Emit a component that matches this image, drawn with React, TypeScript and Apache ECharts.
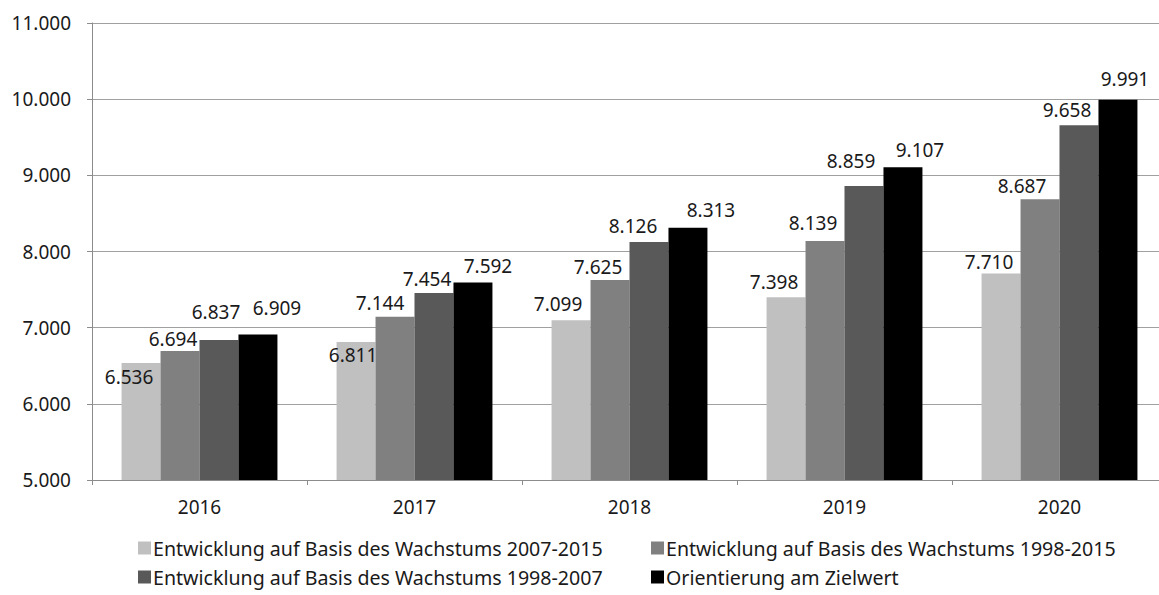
import React, { useEffect, useRef } from "react";
import * as echarts from "echarts";

const categories = ["2016", "2017", "2018", "2019", "2020"];
const seriesNames = [
  "Entwicklung auf Basis des Wachstums 2007-2015",
  "Entwicklung auf Basis des Wachstums 1998-2015",
  "Entwicklung auf Basis des Wachstums 1998-2007",
  "Orientierung am Zielwert",
];
const growth2007_2015 = [6536, 6811, 7099, 7398, 7710];
const growth1998_2015 = [6694, 7144, 7625, 8139, 8687];
const growth1998_2007 = [6837, 7454, 8126, 8859, 9658];
const targetValue = [6909, 7592, 8313, 9107, 9991];
const yTicks = { min: 5000, max: 11000, interval: 1000 };

// styling: colours and label nudges (per series, per category)
const colors = ["#c0c0c0", "#808080", "#595959", "#000000"];
const labelNudges: number[][][] = [
  [[-12, 28], [-3, 27], [-13, -2], [-12, -1], [-12, 3]],
  [[-7, 3], [-15, 1], [-12, 1], [-12, -3], [-18, 1]],
  [[-3, -14], [-7, 0], [-16, -1], [-13, -11], [-12, -1]],
  [[19, -12], [15, -2], [23, -3], [17, -3], [7, -6]],
];

const fmt = (v: number) => {
  const s = String(Math.round(v));
  return s.replace(/\B(?=(\d{3})+(?!\d))/g, ".");
};

const FONT = "Noto Sans";

export default function App() {
  const ref = useRef<HTMLDivElement>(null);
  useEffect(() => {
    document.body.style.margin = "0";
    if (!ref.current) return;
    const chart = echarts.init(ref.current, undefined, { renderer: "svg" });
    const allData = [growth2007_2015, growth1998_2015, growth1998_2007, targetValue];
    const series = allData.map((arr, si) => ({
      type: "bar",
      name: seriesNames[si],
      barGap: "0%",
      barCategoryGap: "27.5%",
      itemStyle: { color: colors[si] },
      data: arr.map((v, ci) => ({
        value: v,
        label: { offset: labelNudges[si][ci] },
      })),
      label: {
        show: true,
        position: "top",
        distance: 5,
        formatter: (p: any) => fmt(p.value),
        fontFamily: FONT,
        fontSize: 19,
        color: "#1a1a1a",
      },
    }));
    const legendPos = [
      { left: 138, top: 538 },
      { left: 651, top: 538 },
      { left: 138, top: 567 },
      { left: 651, top: 567 },
    ];
    const legends = seriesNames.map((n, i) => ({
      data: [n],
      left: legendPos[i].left,
      top: legendPos[i].top,
      orient: "horizontal",
      icon: "rect",
      itemWidth: 13,
      itemHeight: 13,
      padding: 0,
      selectedMode: false,
      textStyle: {
        fontFamily: FONT,
        fontSize: 19.6,
        color: "#1a1a1a",
        padding: [0, 0, 0, -3],
      },
    }));
    chart.setOption({
      animation: false,
      backgroundColor: "#ffffff",
      textStyle: { fontFamily: FONT },
      grid: {
        left: 92,
        top: 23,
        width: 1075,
        height: 457,
        containLabel: false,
        outerBoundsMode: "none",
      },
      legend: legends,
      xAxis: {
        type: "category",
        data: categories,
        axisLine: { show: true, lineStyle: { color: "#8c8c8c", width: 1 } },
        axisTick: { show: true, length: 5, alignWithLabel: false, lineStyle: { color: "#8c8c8c" } },
        axisLabel: { fontFamily: FONT, fontSize: 19, color: "#1a1a1a", margin: 17 },
      },
      yAxis: {
        type: "value",
        min: yTicks.min,
        max: yTicks.max,
        interval: yTicks.interval,
        axisLine: { show: true, lineStyle: { color: "#8c8c8c", width: 1 } },
        axisTick: { show: true, length: 5, lineStyle: { color: "#8c8c8c" } },
        splitLine: { show: true, lineStyle: { color: "#a0a0a0", width: 1 } },
        axisLabel: {
          fontFamily: FONT,
          fontSize: 19,
          color: "#1a1a1a",
          margin: 21,
          formatter: (v: number) => fmt(v),
        },
      },
      series,
    } as any);
    return () => chart.dispose();
  }, []);
  return <div ref={ref} style={{ width: 1159, height: 595 }} />;
}
